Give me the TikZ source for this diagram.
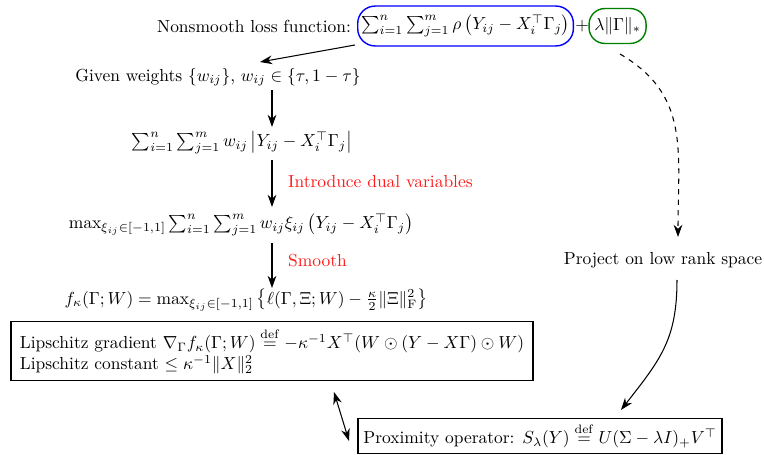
\documentclass[tikz,border=0pt]{standalone}
\usepackage{amsmath,amssymb}
\usetikzlibrary{arrows.meta}
\begin{document}
\begin{tikzpicture}[x=0.573pt,y=-0.573pt,
  txt/.style={inner sep=1pt},
  lbl/.style={text=red!90!white, inner sep=1pt, anchor=west},
  arr/.style={-{Stealth[length=7pt,width=5pt]}, semithick},
  boxed/.style={draw, thick, inner sep=4pt},
  oval/.style={draw, thick, rounded corners=10pt, inner xsep=2pt, inner ysep=5pt}]
\useasboundingbox (0,0) rectangle (764,455);
\node[txt, anchor=east] (nl) at (353,26) {Nonsmooth loss function:};
\node[oval, draw=blue, anchor=west] (blue) at (357,26) {$\sum_{i=1}^n\sum_{j=1}^m \rho\left(Y_{ij}-X_i^\top\Gamma_j\right)$};
\node[txt, anchor=west, inner sep=0pt] (plus) at ([xshift=0.5pt]blue.east) {$+$};
\node[oval, draw=green!50!black, anchor=west, rounded corners=9pt, inner xsep=3pt, inner ysep=5pt] (green) at ([xshift=-0.5pt]plus.east) {$\lambda\|\Gamma\|_*$};
\node[txt] (gw) at (218,77) {Given weights $\{w_{ij}\}$, $w_{ij}\in\{\tau,1-\tau\}$};
\node[txt] (s1) at (242,143) {$\sum_{i=1}^n\sum_{j=1}^m w_{ij}\left|Y_{ij}-X_i^\top\Gamma_j\right|$};
\node[txt] (s2) at (241,225) {$\max_{\xi_{ij}\in[-1,1]}\sum_{i=1}^n\sum_{j=1}^m w_{ij}\xi_{ij}\left(Y_{ij}-X_i^\top\Gamma_j\right)$};
\node[txt] (s3) at (246,300) {$f_\kappa(\Gamma;W)=\max_{\xi_{ij}\in[-1,1]}\left\{\ell(\Gamma,\Xi;W)-\frac{\kappa}{2}\|\Xi\|_{\mathrm{F}}^2\right\}$};
\node[boxed, align=left, inner xsep=5pt] (lip) at (272,351) {Lipschitz gradient $\nabla_\Gamma f_\kappa(\Gamma;W)\overset{\mathrm{def}}{=}-\kappa^{-1}X^\top(W\odot(Y-X\Gamma)\odot W)$\\Lipschitz constant $\le\kappa^{-1}\|X\|_2^2$};
\node[boxed, inner sep=3pt] (prox) at (540,436) {Proximity operator: $S_\lambda(Y)\overset{\mathrm{def}}{=}U(\Sigma-\lambda I)_+V^\top$};
\node[txt] (proj) at (663,260) {Project on low rank space};
\coordinate (a0) at (272,90);
\coordinate (a1) at (272,127);
\coordinate (b0) at (272,160);
\coordinate (b1) at (272,207);
\coordinate (c0) at (272,243);
\coordinate (c1) at (272,288);
\coordinate (t0) at (355,45);
\coordinate (t1) at (260,62);
\coordinate (d0) at (620,54);
\coordinate (d1) at (678,237);
\coordinate (e0) at (677,280);
\coordinate (e1) at (621,410);
\coordinate (f0) at (334,392);
\coordinate (f1) at (349,441);
\draw[arr] (t0) -- (t1);
\draw[arr] (a0) -- (a1);
\draw[arr] (b0) -- node[lbl, pos=0.45, xshift=8pt] {Introduce dual variables} (b1);
\draw[arr] (c0) -- node[lbl, pos=0.38, xshift=8pt] {Smooth} (c1);
\draw[arr, dashed] (d0) .. controls (690,95) and (678,150) .. (d1);
\draw[arr] (e0) .. controls (677,340) and (660,360) .. (e1);
\draw[{Stealth[length=7pt,width=5pt]}-{Stealth[length=7pt,width=5pt]}, semithick] (f0) -- (f1);
\end{tikzpicture}
\end{document}
